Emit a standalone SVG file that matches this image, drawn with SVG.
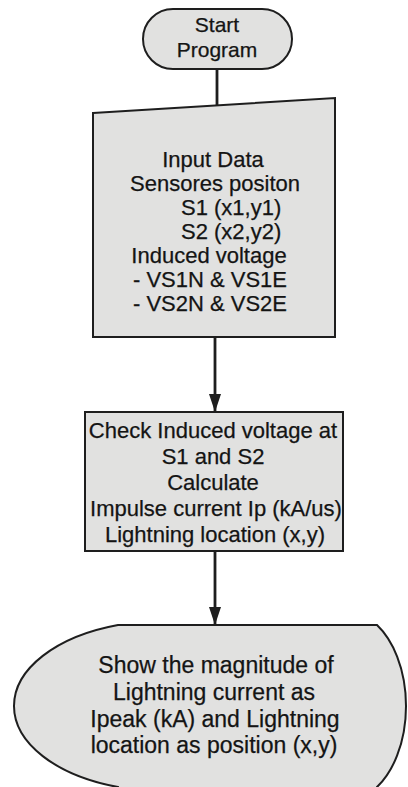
<svg xmlns="http://www.w3.org/2000/svg" width="408" height="787" viewBox="0 0 408 787">
<style>
.shape{fill:#e1e1e0;stroke:#1e1e1e;stroke-width:2}
.t{font-family:"Liberation Sans",Arial,sans-serif;fill:#141414;stroke:#141414;stroke-width:0.25;text-anchor:middle}
.s{text-anchor:start}
.c{stroke:#1e1e1e;stroke-width:2.8;fill:none}
</style>
<defs>
<marker id="arr" markerWidth="18" markerHeight="12" refX="17" refY="6" orient="auto" markerUnits="userSpaceOnUse" viewBox="0 0 18 12">
<path d="M0,0 L18,6 L0,12 Z" fill="#1e1e1e"/>
</marker>
</defs>
<rect width="408" height="787" fill="#ffffff"/>
<g id="start">
<rect class="shape" x="143" y="9" width="149" height="60" rx="30" ry="30"/>
<text class="t" font-size="21" x="217" y="32">Start</text>
<text class="t" font-size="21" x="217" y="57">Program</text>
</g>
<g id="input">
<polygon class="shape" points="93,113 335,98 335,337 93,337"/>
<g class="t" font-size="22">
<text x="213" y="167">Input Data</text>
<text x="215" y="191">Sensores positon</text>
<text class="t s" x="181" y="215">S1 (x1,y1)</text>
<text class="t s" x="181" y="239">S2 (x2,y2)</text>
<text x="209" y="263">Induced voltage</text>
<text x="210" y="287">- VS1N &amp; VS1E</text>
<text x="210" y="311">- VS2N &amp; VS2E</text>
</g>
</g>
<g id="process">
<rect class="shape" x="85" y="412" width="258" height="139"/>
<g class="t" font-size="22">
<text x="213" y="438">Check Induced voltage at</text>
<text x="213" y="464">S1 and S2</text>
<text x="213" y="490">Calculate</text>
<text x="216" y="516">Impulse current Ip (kA/us)</text>
<text x="215" y="542">Lightning location (x,y)</text>
</g>
</g>
<g id="display">
<path class="shape" d="M118,625 L377,625 A60,94.6 0 0 1 377,787 L377,800 L118,800 L118,787 A150,85.1 0 0 1 118,625 Z"/>
<g class="t" font-size="23">
<text x="216" y="673">Show the magnitude of</text>
<text x="214" y="700">Lightning current as</text>
<text x="215" y="727">Ipeak (kA) and Lightning</text>
<text x="214" y="753">location as position (x,y)</text>
</g>
</g>
<g id="connectors">
<line class="c" x1="217" y1="69" x2="217" y2="106"/>
<line class="c" x1="215" y1="337" x2="215" y2="411" marker-end="url(#arr)"/>
<line class="c" x1="215" y1="551" x2="215" y2="624" marker-end="url(#arr)"/>
</g>
</svg>
